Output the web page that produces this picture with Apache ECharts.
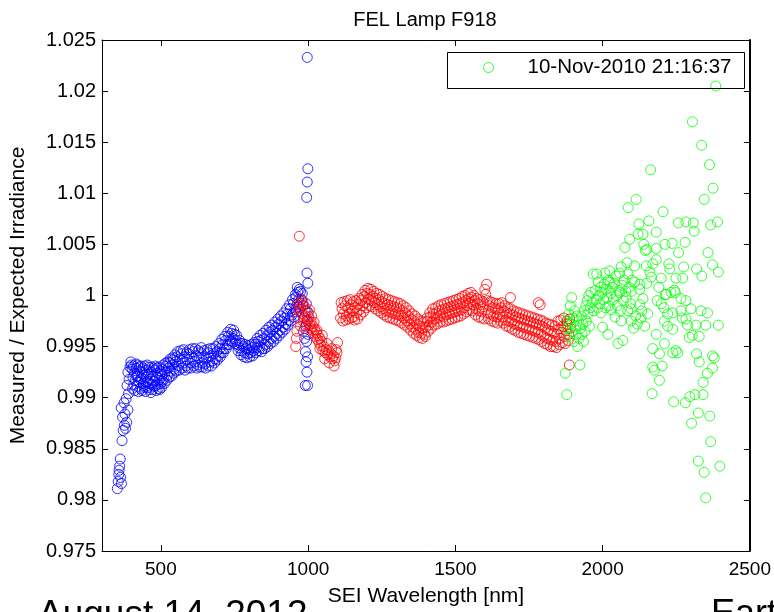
<!DOCTYPE html>
<html>
<head>
<meta charset="utf-8">
<title>FEL Lamp F918</title>
<script src="https://cdn.jsdelivr.net/npm/echarts@6/dist/echarts.min.js"></script>
<style>
  html, body { margin: 0; padding: 0; background: #fff; }
  #chart { width: 774px; height: 612px; }
</style>
</head>
<body>
<div id="chart"></div>
<script>
// axis ticks
const xTicks = [500, 1000, 1500, 2000, 2500]
const yTicks = [0.975, 0.98, 0.985, 0.99, 0.995, 1, 1.005, 1.01, 1.015, 1.02, 1.025]

const legendLabel = '10-Nov-2010 21:16:37'

// [wavelength nm, measured/expected]
const blueData = [
  [352,0.9811],[355,0.9818],[357,0.9825],[360,0.9833],[363,0.9822],[366,0.9816],[358,0.9829],[362,0.9840],
  [368,0.9858],[372,0.9868],[376,0.9873],[380,0.9870],[384,0.9876],[370,0.9881],[378,0.9884],[388,0.9888],
  [365,0.9890],[375,0.9895],[382,0.9899],[390,0.9904],[385,0.9912],[392,0.9918],[388,0.9925],[395,0.9930],
  [398,0.9935],[402,0.9928],[405,0.9920],[408,0.9913],[410,0.9924],[413,0.9917],[416,0.9929],[419,0.9911],
  [422,0.9921],[425,0.9915],[428,0.9926],[431,0.9909],[434,0.9919],[437,0.9925],[440,0.9914],[443,0.9922],
  [446,0.9910],[449,0.9920],[452,0.9927],[455,0.9916],[458,0.9923],[461,0.9908],[464,0.9918],[467,0.9925],
  [470,0.9913],[473,0.9921],[476,0.9916],[479,0.9927],[482,0.9912],[485,0.9920],[488,0.9924],[491,0.9909],
  [494,0.9917],[497,0.9923],[500,0.9914],[503,0.9921],[506,0.9928],[510,0.9918],[514,0.9925],[518,0.9931],
  [522,0.9922],[526,0.9929],[530,0.9934],[534,0.9926],[538,0.9932],[542,0.9937],[546,0.9928],[550,0.9935],
  [555,0.9940],[560,0.9931],[565,0.9938],[570,0.9943],[575,0.9934],[580,0.9940],[585,0.9931],[590,0.9937],
  [595,0.9943],[600,0.9934],[605,0.9940],[610,0.9945],[615,0.9935],[620,0.9941],[625,0.9932],[630,0.9939],
  [635,0.9944],[640,0.9934],[645,0.9940],[650,0.9933],[655,0.9939],[660,0.9944],[665,0.9935],[670,0.9941],
  [675,0.9936],[680,0.9943],[685,0.9938],[690,0.9945],[695,0.9941],[700,0.9948],[705,0.9944],[710,0.9952],
  [715,0.9948],[720,0.9956],[725,0.9952],[730,0.9960],[735,0.9956],[740,0.9963],[745,0.9958],[750,0.9962],
  [755,0.9956],[760,0.9952],[765,0.9949],[770,0.9953],[775,0.9946],[780,0.9950],[785,0.9944],[790,0.9948],
  [795,0.9943],[800,0.9947],[805,0.9944],[810,0.9949],[815,0.9946],[820,0.9952],[825,0.9949],[830,0.9955],
  [835,0.9950],[840,0.9956],[845,0.9948],[850,0.9958],[855,0.9952],[860,0.9961],[865,0.9955],[870,0.9964],
  [875,0.9958],[880,0.9966],[885,0.9960],[890,0.9969],[895,0.9963],[900,0.9972],[905,0.9966],[910,0.9975],
  [915,0.9969],[920,0.9978],[925,0.9972],[930,0.9982],[935,0.9976],[940,0.9987],[945,0.9981],[950,0.9992],
  [955,0.9986],[958,0.9998],[962,0.9991],[965,1.0003],[968,0.9996],[970,1.0006],[974,1.0004],[977,0.9996],
  [980,1.0002],[982,0.9990],[984,0.9965],[986,0.9978],[988,0.9958],[990,0.9985],[991,0.9945],[992,0.9970],
  [993,0.9935],[994,0.9992],[995,0.9955],[996,0.9925],[997,0.9975],[998,0.9940],[999,0.9962],[1000,0.9983],
  [996,1.0022],[999,1.0012],[990,0.9912],[998,0.9912],[995,1.0096],[997,1.0111],[999,1.0124],[997,1.0233],
  [400,0.9932],[404,0.9909],[407,0.9931],[411,0.9907],[415,0.9933],[418,0.9921],[421,0.9932],[424,0.9906],
  [427,0.9930],[430,0.9918],[433,0.9931],[436,0.9907],[439,0.9929],[442,0.9912],[445,0.9931],[448,0.9906],
  [451,0.9915],[454,0.9932],[457,0.9910],[460,0.9930],[463,0.9914],[466,0.9905],[469,0.9930],[472,0.9908],
  [475,0.9929],[478,0.9911],[481,0.9931],[484,0.9907],[487,0.9929],[490,0.9913],[493,0.9930],[496,0.9908],
  [499,0.9926],[502,0.9910],[505,0.9916],[508,0.9932],[512,0.9914],[516,0.9934],[520,0.9917],[524,0.9935],
  [528,0.9920],[532,0.9938],[536,0.9921],[540,0.9939],[544,0.9924],[548,0.9942],[552,0.9926],[557,0.9945],
  [562,0.9927],[567,0.9946],[572,0.9929],[577,0.9947],[582,0.9927],[587,0.9944],[592,0.9929],[597,0.9947],
  [602,0.9929],[607,0.9948],[612,0.9931],[617,0.9948],[622,0.9929],[627,0.9946],[632,0.9930],[637,0.9949],
  [642,0.9930],[647,0.9946],[652,0.9929],[657,0.9947],[662,0.9931],[667,0.9948],[672,0.9931],[677,0.9948],
  [682,0.9934],[687,0.9950],[692,0.9937],[697,0.9953],[702,0.9940],[707,0.9957],[712,0.9944],[717,0.9960],
  [722,0.9948],[727,0.9964],[732,0.9952],[737,0.9967],[742,0.9955],[747,0.9966],[752,0.9953],[757,0.9961],
  [762,0.9946],[767,0.9956],[772,0.9942],[777,0.9953],[782,0.9940],[787,0.9952],[792,0.9939],[797,0.9951],
  [802,0.9940],[807,0.9952],[812,0.9941],[817,0.9954],[822,0.9944],[827,0.9958],[832,0.9946],[837,0.9961],
  [842,0.9945],[847,0.9963],[852,0.9948],[857,0.9966],[862,0.9950],[867,0.9969],[872,0.9953],[877,0.9971],
  [882,0.9955],[887,0.9974],[892,0.9958],[897,0.9977],[902,0.9961],[907,0.9980],[912,0.9964],[917,0.9983],
  [922,0.9967],[927,0.9987],[932,0.9971],[937,0.9991],[942,0.9975],[947,0.9996],[952,0.9979],[957,1.0001],
  [960,0.9984],[963,1.0008],[967,0.9989]
]

const redData = [
  [958,0.9950],[962,0.9965],[965,0.9978],[968,0.9985],[970,1.0058],[972,0.9992],[975,0.9988],[978,0.9996],
  [980,0.9982],[983,0.9975],[986,0.9990],[988,0.9968],[990,0.9980],[993,0.9972],[996,0.9985],[999,0.9976],
  [1002,0.9979],[1005,0.9972],[1008,0.9968],[1010,0.9974],[1013,0.9966],[1016,0.9970],[1019,0.9963],[1022,0.9967],
  [1025,0.9960],[1028,0.9964],[1031,0.9957],[1034,0.9961],[1037,0.9954],[1040,0.9958],[1043,0.9951],[1046,0.9955],
  [1050,0.9946],[1054,0.9950],[1058,0.9944],[1062,0.9947],[1066,0.9942],[1070,0.9946],[1074,0.9940],[1078,0.9943],
  [1082,0.9938],[1086,0.9941],[1090,0.9936],[1094,0.9939],[1098,0.9944],[1100,0.9954],
  [960,0.9958],[966,0.9992],[974,0.9970],[982,0.9994],[1004,0.9986],[1012,0.9980],[1020,0.9974],[1030,0.9966],
  [1040,0.9948],[1048,0.9961],[1056,0.9938],[1064,0.9953],[1072,0.9934],[1080,0.9948],[1088,0.9931],[1095,0.9947],
  [1110,0.9978],[1115,0.9987],[1120,0.9982],[1125,0.9990],[1130,0.9980],[1135,0.9988],[1140,0.9983],[1145,0.9991],
  [1150,0.9985],[1155,0.9979],[1160,0.9988],[1165,0.9983],[1170,0.9991],[1175,0.9986],[1180,0.9995],[1185,0.9990],
  [1190,0.9999],[1195,0.9993],[1200,1.0002],[1205,0.9996],[1210,1.0001],[1215,0.9995],[1220,0.9999],[1225,0.9993],
  [1230,0.9997],[1235,0.9991],[1240,0.9996],[1245,0.9989],[1250,0.9994],[1255,0.9987],[1260,0.9992],[1265,0.9985],
  [1270,0.9991],[1275,0.9984],[1280,0.9990],[1285,0.9983],[1290,0.9989],[1295,0.9982],[1300,0.9988],[1305,0.9981],
  [1310,0.9987],[1315,0.9980],[1320,0.9985],[1325,0.9978],[1330,0.9983],[1335,0.9975],[1340,0.9980],[1345,0.9972],
  [1350,0.9977],[1355,0.9969],[1360,0.9975],[1365,0.9967],[1370,0.9972],[1375,0.9964],[1380,0.9970],[1385,0.9963],
  [1390,0.9968],[1395,0.9962],[1400,0.9969],[1405,0.9975],[1410,0.9971],[1415,0.9979],[1420,0.9974],[1425,0.9982],
  [1430,0.9977],[1435,0.9983],[1440,0.9978],[1445,0.9985],[1450,0.9980],[1455,0.9986],[1460,0.9979],[1465,0.9987],
  [1470,0.9981],[1475,0.9988],[1480,0.9982],[1485,0.9989],[1490,0.9983],[1495,0.9990],[1500,0.9984],[1505,0.9991],
  [1510,0.9985],[1515,0.9992],[1520,0.9986],[1525,0.9993],[1530,0.9988],[1535,0.9995],[1540,0.9990],[1545,0.9997],
  [1550,0.9992],[1555,0.9998],[1560,0.9991],[1565,0.9995],[1570,0.9987],[1575,0.9992],[1580,0.9985],[1585,0.9991],
  [1590,0.9984],[1595,0.9989],[1600,1.0006],[1603,1.0001],[1606,1.0011],[1610,0.9983],[1615,0.9990],[1620,0.9982],
  [1625,0.9988],[1630,0.9980],[1635,0.9987],[1640,0.9979],[1645,0.9986],[1650,0.9981],[1655,0.9988],[1660,0.9979],
  [1665,0.9985],[1670,0.9976],[1675,0.9983],[1680,0.9975],[1685,0.9982],[1687,0.9998],[1690,0.9974],[1695,0.9981],
  [1700,0.9972],[1705,0.9979],[1710,0.9971],[1715,0.9978],[1720,0.9970],[1725,0.9977],[1730,0.9969],[1735,0.9976],
  [1740,0.9968],[1745,0.9975],[1750,0.9967],[1755,0.9974],[1760,0.9966],[1765,0.9973],[1770,0.9965],[1775,0.9972],
  [1780,0.9964],[1782,0.9993],[1785,0.9971],[1788,0.9991],[1790,0.9962],[1795,0.9970],[1800,0.9960],[1805,0.9968],
  [1810,0.9958],[1815,0.9966],[1820,0.9957],[1825,0.9965],[1830,0.9956],[1835,0.9963],[1840,0.9955],[1845,0.9962],
  [1850,0.9967],[1855,0.9958],[1860,0.9964],[1865,0.9970],[1870,0.9960],[1875,0.9966],[1880,0.9972],[1885,0.9962],
  [1887,0.9932],[1890,0.9968],
  [1112,0.9993],[1118,0.9975],[1122,0.9994],[1128,0.9976],[1133,0.9995],[1138,0.9977],[1143,0.9996],[1148,0.9978],
  [1153,0.9994],[1158,0.9976],[1163,0.9995],[1168,0.9977],[1173,0.9997],[1178,0.9981],[1183,1.0001],[1188,0.9984],
  [1193,1.0005],[1198,0.9988],[1203,1.0007],[1208,0.9990],[1213,1.0006],[1218,0.9989],[1223,1.0004],[1228,0.9987],
  [1233,1.0002],[1238,0.9985],[1243,1.0001],[1248,0.9983],[1253,0.9999],[1258,0.9981],[1263,0.9997],[1268,0.9979],
  [1273,0.9996],[1278,0.9978],[1283,0.9995],[1288,0.9977],[1293,0.9994],[1298,0.9976],[1303,0.9993],[1308,0.9975],
  [1313,0.9992],[1318,0.9973],[1323,0.9990],[1328,0.9971],[1333,0.9988],[1338,0.9969],[1343,0.9985],[1348,0.9966],
  [1353,0.9982],[1358,0.9963],[1363,0.9980],[1368,0.9961],[1373,0.9977],[1378,0.9959],[1383,0.9975],[1388,0.9958],
  [1393,0.9974],[1398,0.9960],[1403,0.9978],[1408,0.9965],[1413,0.9983],[1418,0.9968],[1423,0.9987],[1428,0.9971],
  [1433,0.9988],[1438,0.9972],[1443,0.9990],[1448,0.9974],[1453,0.9991],[1458,0.9974],[1463,0.9992],[1468,0.9975],
  [1473,0.9993],[1478,0.9976],[1483,0.9994],[1488,0.9977],[1493,0.9995],[1498,0.9978],[1503,0.9996],[1508,0.9979],
  [1513,0.9997],[1518,0.9980],[1523,0.9999],[1528,0.9982],[1533,1.0000],[1538,0.9984],[1543,1.0002],[1548,0.9986],
  [1553,1.0003],[1558,0.9985],[1563,1.0000],[1568,0.9981],[1573,0.9997],[1578,0.9979],[1583,0.9996],[1588,0.9978],
  [1593,0.9994],[1598,0.9977],[1608,0.9995],[1613,0.9977],[1618,0.9994],[1623,0.9975],[1628,0.9993],[1633,0.9974],
  [1638,0.9992],[1643,0.9973],[1648,0.9992],[1653,0.9975],[1658,0.9993],[1663,0.9973],[1668,0.9990],[1673,0.9970],
  [1678,0.9988],[1683,0.9969],[1688,0.9987],[1693,0.9967],[1698,0.9985],[1703,0.9966],[1708,0.9984],[1713,0.9964],
  [1718,0.9983],[1723,0.9963],[1728,0.9982],[1733,0.9962],[1738,0.9981],[1743,0.9961],[1748,0.9980],[1753,0.9960],
  [1758,0.9979],[1763,0.9959],[1768,0.9978],[1773,0.9958],[1778,0.9977],[1783,0.9957],[1788,0.9976],[1793,0.9955],
  [1798,0.9975],[1803,0.9953],[1808,0.9973],[1813,0.9952],[1818,0.9972],[1823,0.9950],[1828,0.9971],[1833,0.9950],
  [1838,0.9970],[1843,0.9949],[1848,0.9975],[1853,0.9952],[1858,0.9976],[1863,0.9954],[1868,0.9978],[1873,0.9953],
  [1878,0.9975],[1883,0.9956],[1888,0.9977]
]

const greenData = [
  [1873,0.9924],[1878,0.9903],[1880,0.9968],[1883,0.9975],[1885,0.9982],[1888,0.9960],[1890,0.9990],[1892,0.9972],
  [1895,0.9998],[1897,0.9965],[1900,0.9978],[1902,0.9955],[1905,0.9985],[1908,0.9970],[1910,0.9962],[1912,0.9980],
  [1915,0.9950],[1918,0.9975],[1920,0.9958],[1923,0.9932],[1925,0.9968],[1928,0.9980],[1930,0.9962],[1933,0.9972],
  [1935,0.9955],[1938,0.9985],[1940,0.9965],[1943,0.9990],[1945,0.9975],[1948,0.9995],[1950,0.9982],[1953,1.0000],
  [1955,0.9970],[1958,0.9988],[1960,1.0003],[1965,0.9993],[1968,1.0021],[1970,0.9985],[1975,1.0005],[1978,0.9996],
  [1980,1.0021],[1983,0.9988],[1985,1.0013],[1988,1.0000],[1990,0.9992],[1993,1.0008],[1995,0.9983],[1998,1.0003],
  [2000,0.9969],[2003,0.9996],[2005,1.0011],[2008,1.0022],[2010,0.9988],[2012,1.0006],[2015,0.9998],[2018,0.9962],
  [2020,1.0015],[2022,0.9990],[2024,1.0024],[2025,1.0013],[2028,1.0002],[2030,0.9986],[2033,1.0008],[2036,0.9996],
  [2040,1.0012],[2042,0.9979],[2045,1.0019],[2047,1.0000],[2050,0.9990],[2052,0.9953],[2055,1.0005],[2058,1.0022],
  [2058,1.0003],[2060,0.9985],[2063,1.0028],[2063,0.9975],[2066,1.0010],[2069,0.9956],[2070,0.9995],[2073,1.0015],
  [2076,1.0047],[2078,1.0004],[2080,0.9998],[2083,1.0032],[2085,0.9985],[2086,1.0021],[2087,1.0086],[2090,1.0008],
  [2092,1.0055],[2095,0.9992],[2097,1.0004],[2097,0.9987],[2097,0.9975],[2100,1.0015],[2105,0.9968],[2109,1.0029],
  [2109,1.0013],[2112,0.9980],[2114,1.0094],[2118,0.9972],[2120,1.0060],[2123,1.0070],[2126,1.0006],[2126,1.0011],
  [2126,0.9991],[2130,0.9978],[2133,0.9985],[2137,1.0060],[2137,0.9997],[2140,1.0050],[2143,0.9970],[2145,1.0044],
  [2148,1.0029],[2150,1.0045],[2150,1.0012],[2153,0.9982],[2157,1.0073],[2160,1.0023],[2163,1.0123],[2165,1.0018],
  [2168,0.9904],[2170,1.0031],[2170,0.9948],[2170,0.9930],[2176,0.9927],[2182,1.0035],[2182,1.0046],[2182,1.0062],
  [2182,0.9962],[2185,0.9995],[2191,1.0008],[2193,0.9943],[2193,0.9917],[2199,1.0017],[2199,0.9992],[2202,0.9931],
  [2205,1.0082],[2208,0.9988],[2210,0.9953],[2210,0.9975],[2212,1.0050],[2213,1.0001],[2216,1.0001],[2221,0.9982],
  [2221,0.9970],[2225,1.0031],[2228,1.0026],[2232,1.0003],[2236,1.0051],[2238,0.9983],[2238,0.9967],[2238,0.9944],
  [2241,0.9896],[2244,1.0005],[2247,1.0003],[2249,1.0017],[2249,0.9946],[2255,0.9944],[2257,1.0071],[2258,1.0042],
  [2266,0.9997],[2266,0.9985],[2270,0.9978],[2272,1.0017],[2275,1.0028],[2280,1.0052],[2281,0.9895],[2283,1.0072],
  [2283,0.9995],[2283,0.9977],[2288,0.9971],[2294,0.9959],[2296,0.9901],[2300,0.9987],[2302,0.9875],[2305,1.0170],
  [2305,0.9961],[2308,1.0071],[2311,1.0063],[2314,0.9903],[2317,0.9971],[2319,1.0026],[2319,0.9943],[2325,0.9885],
  [2325,0.9838],[2328,0.9960],[2328,0.9935],[2334,0.9985],[2336,1.0147],[2337,1.0019],[2341,0.9915],[2341,0.9903],
  [2345,1.0094],[2345,0.9827],[2350,0.9971],[2350,0.9802],[2356,0.9983],[2356,0.9924],[2358,1.0042],[2363,1.0128],
  [2364,0.9882],[2367,1.0069],[2367,0.9857],[2373,1.0030],[2373,0.9941],[2373,0.9929],[2375,1.0105],[2379,0.9939],
  [2384,1.0205],[2390,1.0072],[2393,1.0023],[2393,0.9971],[2398,0.9833]
]

const fontFamily = '"Liberation Sans", Arial, Helvetica, sans-serif'

const chart = echarts.init(document.getElementById('chart'))

const circleSeries = (name, data, color) => ({
  name: name,
  type: 'scatter',
  data: data,
  symbol: 'circle',
  symbolSize: 10,
  itemStyle: {
    color: 'rgba(0,0,0,0)',
    borderColor: color,
    borderWidth: 1
  },
  emphasis: { disabled: true },
  xAxisIndex: 0,
  yAxisIndex: 0
})

// matlab style box: black frame, short ticks pointing inwards on all four sides
const axisLine = (w) => ({ show: true, lineStyle: { color: '#000', width: w } })
const tick = () => ({ show: true, inside: true, length: 6, lineStyle: { color: '#000', width: 1 } })

// only the round wavelengths get a label, printed without separators
const xLabel = (v) => (xTicks.indexOf(v) >= 0 ? String(v) : '')
const yLabel = (v) => String(parseFloat(v.toFixed(3)))

const option = {
  animation: false,
  backgroundColor: '#fff',
  textStyle: { fontFamily: fontFamily, color: '#000' },
  title: {
    text: 'FEL Lamp F918',
    left: 425,
    textAlign: 'center',
    top: 10,
    padding: 0,
    textStyle: { fontSize: 20, fontWeight: 'normal', color: '#000', fontFamily: fontFamily }
  },
  legend: {
    data: [{
      name: legendLabel,
      icon: 'circle',
      itemStyle: { color: 'rgba(0,0,0,0)', borderColor: '#00ff00', borderWidth: 1 }
    }],
    left: 483,
    top: 57,
    padding: 0,
    itemWidth: 68,
    itemHeight: 10,
    selectedMode: false,
    textStyle: { fontSize: 20.5, color: '#000', fontFamily: fontFamily }
  },
  grid: { left: 100, right: 23, top: 40, bottom: 59 },
  xAxis: [
    {
      type: 'value',
      min: 300,
      max: 2500,
      splitNumber: 5,
      position: 'bottom',
      name: 'SEI Wavelength [nm]',
      nameLocation: 'middle',
      nameGap: 35,
      nameTextStyle: { fontSize: 21, color: '#000', fontFamily: fontFamily },
      axisLine: axisLine(1),
      axisTick: tick(),
      axisLabel: { show: true, formatter: xLabel, margin: 9, fontSize: 19, color: '#000', fontFamily: fontFamily },
      splitLine: { show: false }
    },
    {
      type: 'value',
      min: 300,
      max: 2500,
      splitNumber: 5,
      position: 'top',
      axisLine: axisLine(1),
      axisTick: tick(),
      axisLabel: { show: false },
      splitLine: { show: false }
    }
  ],
  yAxis: [
    {
      type: 'value',
      min: 0.975,
      max: 1.025,
      interval: 0.005,
      position: 'left',
      name: 'Measured / Expected Irradiance',
      nameLocation: 'middle',
      nameGap: 73,
      nameTextStyle: { fontSize: 21, color: '#000', fontFamily: fontFamily },
      axisLine: axisLine(1),
      axisTick: tick(),
      axisLabel: { show: true, formatter: yLabel, margin: 6, fontSize: 20, color: '#000', fontFamily: fontFamily },
      splitLine: { show: false }
    },
    {
      type: 'value',
      min: 0.975,
      max: 1.025,
      interval: 0.005,
      position: 'right',
      axisLine: axisLine(2),
      axisTick: tick(),
      axisLabel: { show: false },
      splitLine: { show: false }
    }
  ],
  graphic: [
    {
      type: 'rect',
      left: 445,
      top: 50,
      shape: { width: 297, height: 36 },
      style: { fill: 'none', stroke: '#000', lineWidth: 1 },
      z: 10
    },
    {
      type: 'text',
      left: 38,
      top: 597,
      style: { text: 'August 14, 2012', fontSize: 37, fontFamily: fontFamily, fill: '#000' }
    },
    {
      type: 'text',
      left: 711,
      top: 597,
      style: { text: 'Eart', fontSize: 36, fontFamily: fontFamily, fill: '#000' }
    }
  ],
  series: [
    circleSeries('blue', blueData, '#0000ff'),
    circleSeries('red', redData, '#ff0000'),
    circleSeries(legendLabel, greenData, '#00ff00')
  ]
}

chart.setOption(option)
</script>
</body>
</html>
